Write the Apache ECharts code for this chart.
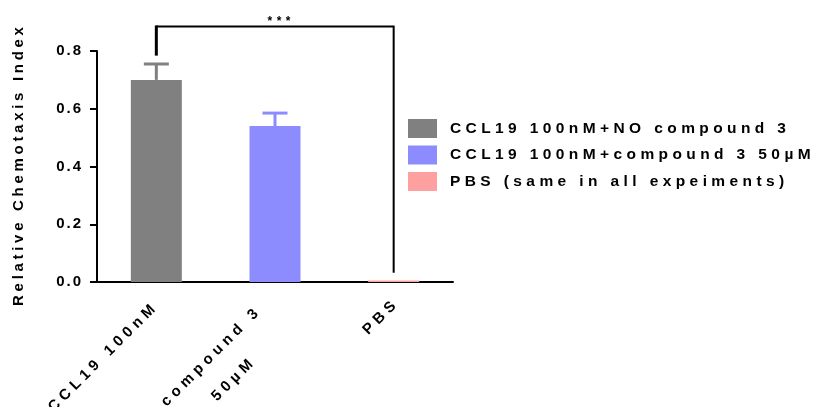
<!DOCTYPE html>
<html>
<head>
<meta charset="utf-8">
<script src="https://cdn.jsdelivr.net/npm/echarts@6/dist/echarts.min.js"></script>
<style>
  html, body { margin: 0; padding: 0; background: #fff; }
  #chart { width: 815px; height: 407px; }
</style>
</head>
<body>
<div id="chart"></div>
<script>
// Groups on the x axis
const categories = ['CCL19 100nM', 'compound 3\n50µM', 'PBS'];
// Legend entries, one bar series per group
const seriesNames = ['CCL19 100nM+NO compound 3', 'CCL19 100nM+compound 3 50µM', 'PBS (same in all expeiments)'];
// Mean relative chemotaxis index and its error (upper bar only)
const means = [0.70, 0.54, 0.005];
const errors = [0.055, 0.045, 0];
const barColors = ['#808080', '#8c8cff', '#ffa0a0'];
// Y axis scale
const yMin = 0, yMax = 0.8, yStep = 0.2;
// Significance bracket between the first and last group
const sigFrom = 0, sigTo = 2;
const sigLeftFoot = 0.784, sigRightFoot = 0.032, sigTop = 0.885;
const sigText = '***';

const FONT = '"Liberation Sans", Arial, sans-serif';

// Letter-spaced text: every glyph is a rich token with a small left padding
function richSet(name, size, ls, lineHeight, align, lead) {
  const base = { fontFamily: FONT, fontSize: size, fontWeight: 'bold', color: '#000', lineHeight: lineHeight };
  if (align) base.align = align;
  const r = {};
  r[name + 'F'] = Object.assign({}, base, { padding: [0, 0, 0, lead || 0] });
  r[name] = Object.assign({}, base, { padding: [0, 0, 0, ls] });
  return r;
}
function spaced(text, name) {
  return text.split('\n').map(line =>
    Array.from(line).map((ch, i) => '{' + name + (i === 0 ? 'F' : '') + '|' + ch + '}').join('')
  ).join('\n');
}

const chart = echarts.init(document.getElementById('chart'), null, { renderer: 'canvas' });

const barSeries = seriesNames.map((name, i) => ({
  name: name,
  type: 'bar',
  stack: 'group',
  barWidth: 51,
  itemStyle: { color: barColors[i] },
  data: categories.map((c, j) => (j === i ? means[i] : '-')),
  z: 2
}));

const xLabelPad = [[0, 5, 0, 0], [16, 19, 0, 0], [0, 0, 0, 0]];

const option = {
  animation: false,
  backgroundColor: '#fff',
  grid: { left: 97, right: 362, top: 51, bottom: 125, containLabel: false, outerBoundsMode: 'none' },
  legend: {
    orient: 'vertical',
    left: 408,
    top: 119,
    padding: 0,
    itemWidth: 29,
    itemHeight: 19,
    itemGap: 7.5,
    icon: 'rect',
    selectedMode: false,
    data: seriesNames,
    formatter: name => spaced(name, 'lg'),
    textStyle: { rich: richSet('lg', 15.5, 4.4, 19, null, 8) }
  },
  xAxis: {
    type: 'category',
    data: categories.map((c, i) => ({ value: c, textStyle: { padding: xLabelPad[i] } })),
    boundaryGap: true,
    axisLine: { lineStyle: { color: '#000', width: 2 } },
    axisTick: { alignWithLabel: true, length: 7, lineStyle: { color: '#000', width: 2 } },
    axisLabel: {
      interval: 0,
      rotate: 45,
      margin: 22,
      hideOverlap: false,
      formatter: v => spaced(v, v.indexOf('\n') >= 0 ? 'xc' : 'x'),
      rich: Object.assign({}, richSet('x', 15, 4.6, 18), richSet('xc', 15, 4.6, 32, 'center'))
    },
    splitLine: { show: false }
  },
  yAxis: {
    type: 'value',
    min: yMin,
    max: yMax,
    interval: yStep,
    name: spaced('Relative Chemotaxis Index', 'yt'),
    nameLocation: 'middle',
    nameGap: 69,
    nameRotate: 90,
    nameTextStyle: { rich: richSet('yt', 15, 3.7, 18) },
    axisLine: { show: true, lineStyle: { color: '#000', width: 2 } },
    axisTick: { show: true, length: 7, lineStyle: { color: '#000', width: 2 } },
    axisLabel: {
      margin: 16,
      formatter: v => spaced(v.toFixed(1), 'yl'),
      rich: richSet('yl', 15, 2, 18)
    },
    splitLine: { show: false }
  },
  series: barSeries.concat([
    {
      name: 'error',
      type: 'custom',
      z: 3,
      clip: false,
      encode: { x: 0, y: [1, 2] },
      data: means.map((m, i) => [i, m, m + errors[i]]),
      renderItem: (params, api) => {
        const i = params.dataIndex;
        if (!(api.value(2) > api.value(1))) return null;
        const base = api.coord([api.value(0), api.value(1)]);
        const top = api.coord([api.value(0), api.value(2)]);
        const half = 12.5;
        const st = { stroke: barColors[i], lineWidth: 3, fill: null };
        return {
          type: 'group',
          children: [
            { type: 'line', shape: { x1: base[0], y1: base[1], x2: top[0], y2: top[1] }, style: st },
            { type: 'line', shape: { x1: top[0] - half, y1: top[1], x2: top[0] + half, y2: top[1] }, style: st }
          ]
        };
      }
    },
    {
      name: 'significance',
      type: 'custom',
      z: 4,
      clip: false,
      encode: { x: [0, 1], y: [2, 3, 4] },
      data: [[sigFrom, sigTo, sigLeftFoot, sigRightFoot, sigTop]],
      renderItem: (params, api) => {
        const lf = api.coord([api.value(0), api.value(2)]);
        const lt = api.coord([api.value(0), api.value(4)]);
        const rt = api.coord([api.value(1), api.value(4)]);
        const rf = api.coord([api.value(1), api.value(3)]);
        return {
          type: 'group',
          children: [
            { type: 'line', shape: { x1: lf[0], y1: lf[1], x2: lt[0], y2: lt[1] - 1 }, style: { stroke: '#000', lineWidth: 3 } },
            { type: 'polyline', shape: { points: [lt, rt, rf] }, style: { stroke: '#000', lineWidth: 2, fill: null } },
            {
              type: 'text',
              style: {
                x: (lt[0] + rt[0]) / 2 + 4,
                y: lt[1] + 1,
                text: spaced(sigText, 'sg'),
                align: 'center',
                verticalAlign: 'bottom',
                rich: richSet('sg', 12, 4.5, 12)
              }
            }
          ]
        };
      }
    }
  ])
};

chart.setOption(option);
</script>
</body>
</html>
